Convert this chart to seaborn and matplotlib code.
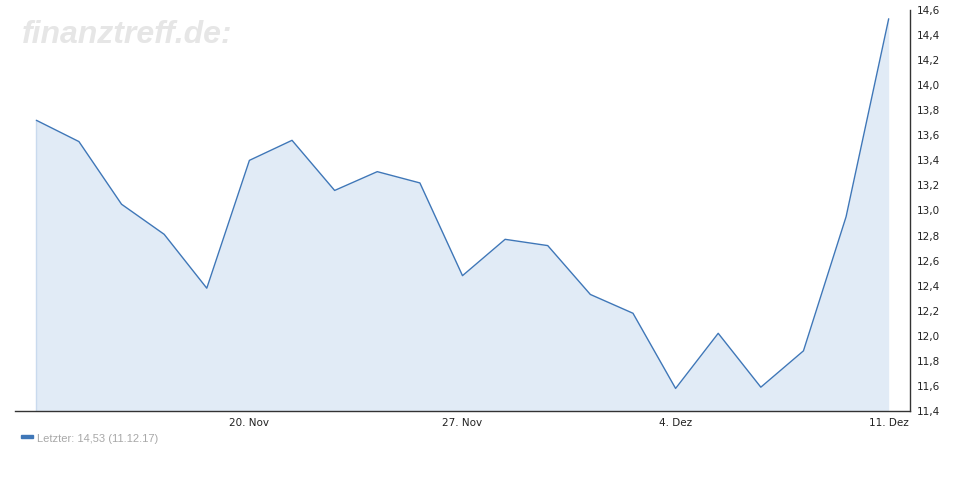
import pandas as pd
import matplotlib
matplotlib.use("Agg")
import matplotlib.pyplot as plt
import seaborn as sns
from matplotlib.ticker import FuncFormatter, MultipleLocator

# Handelstage 13.11.2017 - 11.12.2017
dates = ["13.11.", "14.11.", "15.11.", "16.11.", "17.11.",
         "20.11.", "21.11.", "22.11.", "23.11.", "24.11.",
         "27.11.", "28.11.", "29.11.", "30.11.", "01.12.",
         "04.12.", "05.12.", "06.12.", "07.12.", "08.12.",
         "11.12."]
kurs = [13.72, 13.55, 13.05, 12.81, 12.38,
        13.40, 13.56, 13.16, 13.31, 13.22,
        12.48, 12.77, 12.72, 12.33, 12.18,
        11.58, 12.02, 11.59, 11.88, 12.95,
        14.53]
tick_pos = [5, 10, 15, 20]
tick_labels = ["20. Nov", "27. Nov", "4. Dez", "11. Dez"]

LINE = "#3f77b8"
FILL = "#e1ebf6"

sns.set_theme(style="white")
plt.rcParams['font.family'] = ['DejaVu Sans']

df = pd.DataFrame({"idx": range(len(kurs)), "datum": dates, "kurs": kurs})

fig = plt.figure(figsize=(9.7, 5.0), dpi=100)
ax = fig.add_axes([15 / 970, 1 - 411 / 500, (910 - 15) / 970, (411 - 10) / 500])

ax.fill_between(df["idx"], df["kurs"], 11.4, color=FILL, linewidth=0, zorder=1)
ax.vlines(0, 11.4, kurs[0], color="#c9daee", linewidth=1, zorder=1)
sns.lineplot(data=df, x="idx", y="kurs", ax=ax, color=LINE, linewidth=1.0, zorder=2)

ax.set_xlim(-0.5, 20.5)
ax.set_ylim(11.4, 14.6)
ax.yaxis.set_major_locator(MultipleLocator(0.2))
ax.yaxis.set_major_formatter(FuncFormatter(lambda v, p: f"{v:.1f}".replace(".", ",")))
ax.yaxis.tick_right()
ax.tick_params(axis="y", length=0, labelsize=7.5, pad=5, colors="#222222")
ax.set_xticks(tick_pos)
ax.set_xticklabels(tick_labels)
ax.tick_params(axis="x", length=3, width=1, direction="out", labelsize=7.5, pad=2,
               colors="#222222")
ax.set_xlabel("")
ax.set_ylabel("")

for s in ["left", "top"]:
    ax.spines[s].set_visible(False)
for s in ["bottom", "right"]:
    ax.spines[s].set_color("#333333")
    ax.spines[s].set_linewidth(1.0)

# Wasserzeichen
fig.text(22 / 970, 1 - 43 / 500, "finanztreff.de:", fontsize=23, fontweight="bold",
         fontstyle="italic", color="#e6e6e6", family=["Liberation Sans", "DejaVu Sans"])

# Legende
fig.patches.append(plt.Rectangle((21 / 970, 1 - 438 / 500), 12 / 970, 3 / 500,
                                 transform=fig.transFigure, color=LINE))
fig.text(37 / 970, 1 - 442 / 500, "Letzter: 14,53 (11.12.17)", fontsize=8,
         color="#a8a8a8", family=["Liberation Sans", "DejaVu Sans"])

fig.savefig("out.png", dpi=100)
